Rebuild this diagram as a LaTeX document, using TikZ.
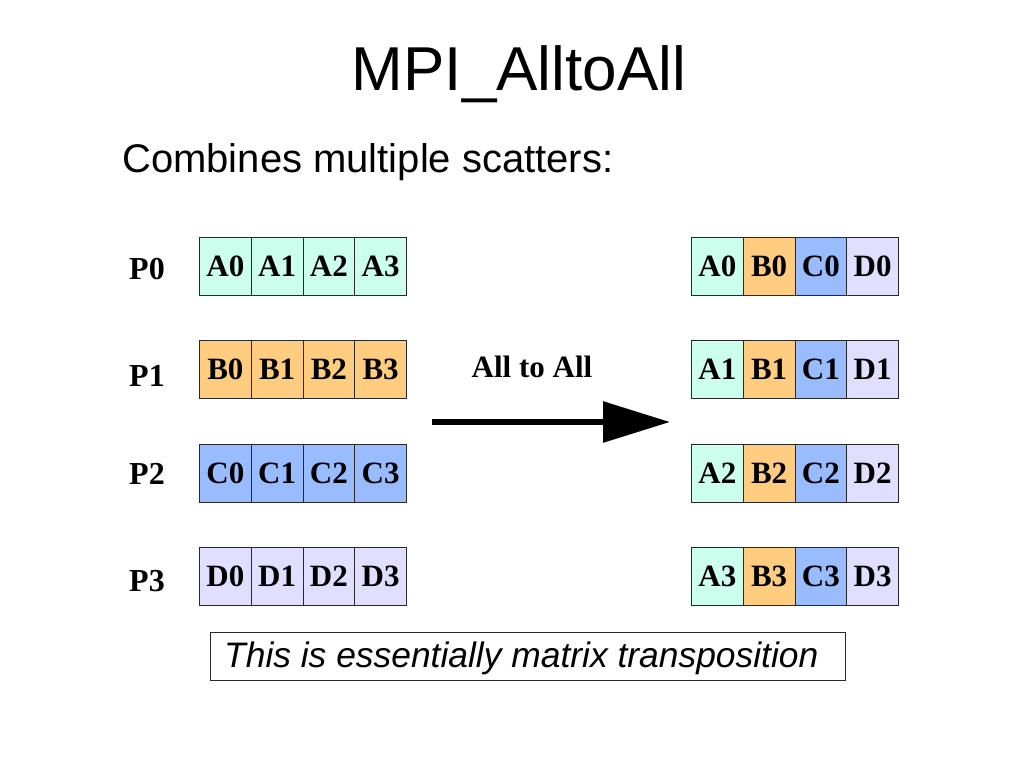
\documentclass[tikz,border=0pt]{standalone}
\usepackage{fontspec}
\setmainfont{Liberation Serif}
\newfontfamily\arialfont{Liberation Sans}
\usetikzlibrary{arrows.meta}
\definecolor{cA}{RGB}{204,255,238}
\definecolor{cB}{RGB}{255,204,128}
\definecolor{cC}{RGB}{153,187,255}
\definecolor{cD}{RGB}{224,223,255}
\definecolor{edge}{RGB}{40,40,40}
\tikzset{
  cell/.style={draw=edge, line width=1pt, minimum width=51.75pt, minimum height=58pt,
    inner sep=0pt, anchor=north west, font=\fontsize{31}{31}\selectfont\bfseries},
  plabel/.style={anchor=base, font=\fontsize{32}{32}\selectfont\bfseries},
}
\begin{document}
\begin{tikzpicture}[x=1pt,y=-1pt]
\useasboundingbox[fill=white] (0,0) rectangle (1024,768);
\node[anchor=base, font=\arialfont\fontsize{62}{62}\selectfont] (title) at (519,90) {MPI\_AlltoAll};
\node[anchor=base west, inner sep=0pt, font=\arialfont\fontsize{40}{40}\selectfont] (sub) at (122,172) {Combines multiple scatters:};
% process labels
\node[plabel] (p0) at (147,279) {P0};
\node[plabel] (p1) at (147,386) {P1};
\node[plabel] (p2) at (147,484) {P2};
\node[plabel] (p3) at (147,591) {P3};
% left grid
\foreach \r/\L/\y in {0/A/237,1/B/340,2/C/444,3/D/547}{
  \foreach \c in {0,1,2,3}{
    \node[cell, fill=c\L] (l\r\c) at ({199+51.75*\c},\y) {\L\c};
  }
}
% right grid
\foreach \r/\y in {0/237,1/340,2/444,3/547}{
  \foreach \c/\L in {0/A,1/B,2/C,3/D}{
    \node[cell, fill=c\L] (r\r\c) at ({691+51.75*\c},\y) {\L\r};
  }
}
% arrow
\node[anchor=base, font=\fontsize{31}{31}\selectfont\bfseries] (lbl) at (532,377) {All to All};
\coordinate (as) at (432,422);
\coordinate (ae) at (670,422);
\draw[line width=6pt, -{Triangle[length=67pt,width=40pt]}] (as) -- (ae);
% note box
\node[draw=edge, line width=1pt, anchor=north west, minimum width=635pt, minimum height=48pt,
  inner sep=0pt] (box) at (210,632) {};
\node[anchor=base west, inner sep=0pt, font=\arialfont\itshape\fontsize{35.4}{35.4}\selectfont] (note) at (224,667) {This is essentially matrix transposition};
\end{tikzpicture}
\end{document}
